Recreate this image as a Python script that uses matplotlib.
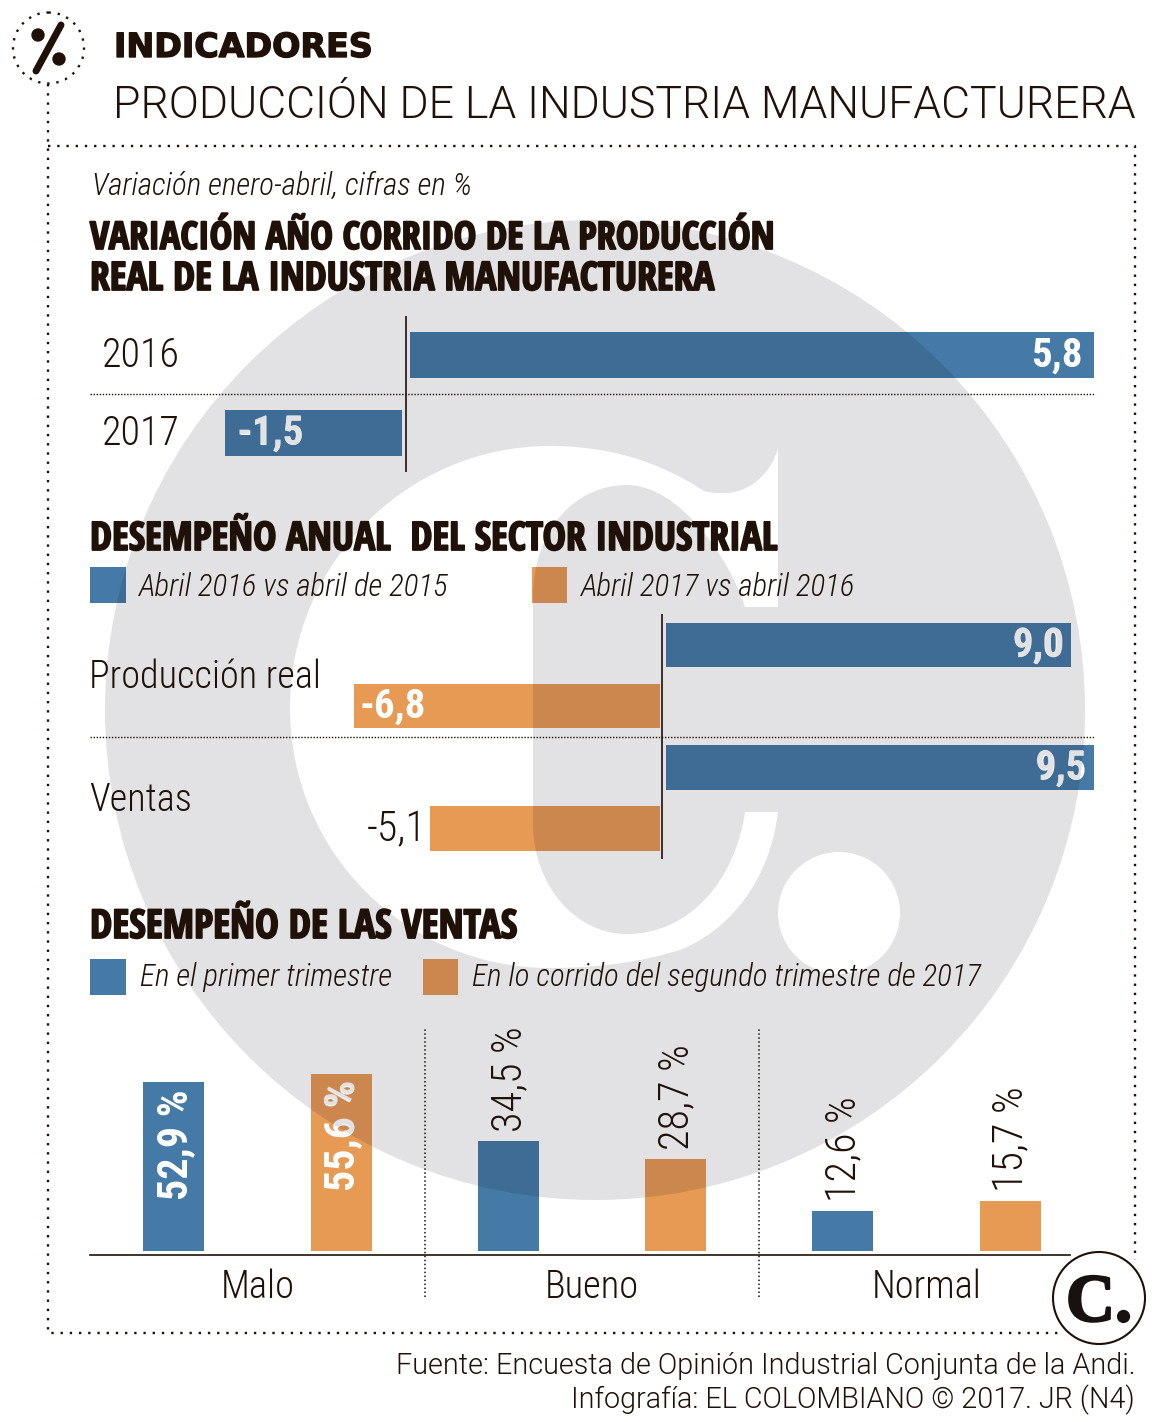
"""Indicadores: produccion de la industria manufacturera (infografia El Colombiano)."""

import matplotlib
matplotlib.use("Agg")
import matplotlib.patheffects as pe
import matplotlib.pyplot as plt
import numpy as np
from matplotlib.patches import Circle, Rectangle, PathPatch
from matplotlib.path import Path

WIDTH, HEIGHT = 1174, 1422

# Data.
YEARS = ["2016", "2017"]
YEAR_VARIATION = [5.8, -1.5]

ROWS = ["Producción real", "Ventas"]
APRIL_2016 = [9.0, 9.5]
APRIL_2017 = [-6.8, -5.1]

SALES_GROUPS = ["Malo", "Bueno", "Normal"]
SALES_Q1 = [52.9, 34.5, 12.6]
SALES_Q2 = [55.6, 28.7, 15.7]

INK = "#1f1108"
BLUE, BLUE_DARK = "#457aa7", "#3e6c95"
ORANGE, ORANGE_DARK = "#e79a54", "#cc874f"
WATERMARK = "#e2e2e4"

HEAD = dict(family="Open Sans Condensed", weight=700)
COND_LIGHT = dict(family="Roboto Condensed", weight=300)
COND_BOLD = dict(family="Roboto Condensed", weight=700)


def px(size):
    """Font size in points for a size in pixels (dpi 100)."""
    return size * 0.72


def axes_px(fig, x0, y0, x1, y1):
    """Axes covering a box given in picture pixels (y going down)."""
    ax = fig.add_axes([x0 / WIDTH, 1 - y1 / HEIGHT, (x1 - x0) / WIDTH, (y1 - y0) / HEIGHT])
    ax.patch.set_visible(False)
    for spine in ax.spines.values():
        spine.set_visible(False)
    ax.set_xticks([])
    ax.set_yticks([])
    return ax


def oriented(poly, ccw=True):
    """Closed polygon with the wanted winding, so holes stay holes."""
    x, y = poly[:, 0], poly[:, 1]
    area = np.sum(x[:-1] * y[1:] - x[1:] * y[:-1])
    return poly if (area > 0) == ccw else poly[::-1]


def watermark_path():
    """Big grey disc with the newspaper's C and dot cut out of it."""
    disc = Path.circle((595, 710), 490)
    dot = Path.circle((839, 913), 61)
    M, L, C = Path.MOVETO, Path.LINETO, Path.CURVE4
    c_shape = [
        (M, (778, 448)), (L, (778, 607)), (L, (745, 607)),
        (C, (730, 560)), (C, (680, 485)), (C, (627, 485)),
        (C, (575, 485)), (C, (533, 530)), (C, (533, 598)),
        (L, (533, 823)),
        (C, (533, 885)), (C, (575, 934)), (C, (627, 934)),
        (C, (690, 934)), (C, (735, 880)), (C, (745, 812)),
        (L, (778, 812)),
        (C, (770, 880)), (C, (730, 930)), (C, (680, 950)),
        (C, (640, 962)), (C, (600, 968)), (C, (550, 968)),
        (C, (406, 968)), (C, (290, 852)), (C, (290, 708)),
        (C, (290, 564)), (C, (406, 446)), (C, (550, 446)),
        (C, (610, 446)), (C, (660, 462)), (C, (704, 491)),
        (C, (712, 493)), (C, (718, 493)), (C, (725, 493)),
        (C, (750, 493)), (C, (772, 472)), (C, (778, 448)),
        (L, (778, 448)),
    ]
    hole = Path([p for _, p in c_shape], [c for c, _ in c_shape])
    polys = [oriented(disc.to_polygons(closed_only=True)[0], True)]
    for shape in (dot, hole):
        polys.append(oriented(shape.to_polygons(closed_only=True)[0], False))
    verts = np.concatenate(polys)
    codes = np.concatenate(
        [[Path.MOVETO] + [Path.LINETO] * (len(p) - 1) for p in polys]
    )
    return Path(verts, codes)


fig = plt.figure(figsize=(WIDTH / 100, HEIGHT / 100), dpi=100, facecolor="white")

# Background layer in picture pixels: watermark, frame, titles, legends.
bg = fig.add_axes([0, 0, 1, 1], zorder=0)
bg.set_xlim(0, WIDTH)
bg.set_ylim(HEIGHT, 0)
bg.axis("off")

mark = watermark_path()
bg.add_patch(PathPatch(mark, facecolor=WATERMARK, edgecolor="none", zorder=1))


def multiply(artist):
    """Clip a darker copy to the watermark, as if it was printed over it."""
    artist.set_clip_on(True)
    artist.set_clip_path(mark, bg.transData)
    return artist


def swatch(x0, x1, y0, y1, light, dark):
    bg.add_patch(Rectangle((x0, y0), x1 - x0, y1 - y0, facecolor=light, edgecolor="none", zorder=2))
    multiply(bg.add_patch(Rectangle((x0, y0), x1 - x0, y1 - y0, facecolor=dark, edgecolor="none", zorder=3)))


def heading(x, y, text, size):
    bg.text(x, y, text, color=INK, fontsize=px(size), va="baseline", zorder=5,
            path_effects=[pe.withStroke(linewidth=1.3, foreground=INK)], **HEAD)


def bar_label(ax, x, y, text, size=41, **kw):
    """White label inside a bar, turning grey where the watermark runs below."""
    style = dict(fontsize=px(size), zorder=6, **COND_BOLD, **kw)
    ax.text(x, y, text, color="white", **style)
    # agg only clips text to a path when it is drawn as a path, hence the effect
    grey = ax.text(x, y, text, color=WATERMARK, path_effects=[pe.Normal()], **style)
    multiply(grey).set_zorder(7)


def fmt(value, suffix=""):
    return f"{value:.1f}".replace(".", ",") + suffix


# Frame and header.
dotted = dict(color=INK, lw=1.7, linestyle=(0, (1, 2.9)), zorder=4)
bg.plot([48, 48, 1058], [84, 1333, 1333], **dotted)
bg.plot([48, 1135, 1135], [146, 146, 1260], **dotted)
bg.add_patch(Circle((48.5, 48), 35.5, fill=False, edgecolor=INK, lw=1.7,
                    linestyle=(0, (1, 2.9)), zorder=4))
bg.plot([61, 36], [25, 71], color=INK, lw=5, solid_capstyle="round", zorder=4)
bg.add_patch(Circle((38, 35), 6, color=INK, zorder=4))
bg.add_patch(Circle((59, 59), 6, color=INK, zorder=4))

bg.text(114, 57, "INDICADORES", color=INK, fontsize=px(33.3), family="DejaVu Sans", weight=700, zorder=5,
        path_effects=[pe.withStroke(linewidth=1.0, foreground=INK)])
bg.text(113, 118, "PRODUCCIÓN DE LA INDUSTRIA MANUFACTURERA", color=INK,
        fontsize=px(44.6), family="Roboto", weight=300, zorder=5)
bg.text(92, 195, "Variación enero-abril, cifras en %", color=INK, fontsize=px(31),
        style="italic", zorder=5, **COND_LIGHT)

heading(90, 249, "VARIACIÓN AÑO CORRIDO DE LA PRODUCCIÓN", 38.3)
heading(90, 290, "REAL DE LA INDUSTRIA MANUFACTURERA", 39.4)
heading(90, 550, "DESEMPEÑO ANUAL  DEL SECTOR INDUSTRIAL", 39.4)
heading(90, 938, "DESEMPEÑO DE LAS VENTAS", 39.9)

# Legends.
legend_style = dict(color=INK, fontsize=px(31), style="italic", zorder=5, **COND_LIGHT)
swatch(90, 126, 567, 603, BLUE, BLUE_DARK)
bg.text(139, 596, "Abril 2016 vs abril de 2015", **legend_style)
swatch(532, 567, 567, 603, ORANGE, ORANGE_DARK)
bg.text(581, 596, "Abril 2017 vs abril 2016", **legend_style)
swatch(90, 126, 959, 995, BLUE, BLUE_DARK)
bg.text(140, 986, "En el primer trimestre", **legend_style)
swatch(423, 458, 959, 995, ORANGE, ORANGE_DARK)
bg.text(472, 986, "En lo corrido del segundo trimestre de 2017", **legend_style)

# Footer and logo.
foot = dict(color=INK, fontsize=px(28.8), family="Roboto", weight=300, ha="right", zorder=5)
bg.text(1135, 1374, "Fuente: Encuesta de Opinión Industrial Conjunta de la Andi.", **foot)
bg.text(1135, 1408, "Infografía: EL COLOMBIANO © 2017. JR (N4)", **foot)
bg.add_patch(Circle((1099, 1298), 46, facecolor="white", edgecolor=INK, lw=1.5, zorder=8))
bg.text(1099, 1321, "C.", color="#17120f", fontsize=px(68), family="Liberation Serif", weight=700,
        ha="center", zorder=9, path_effects=[pe.withStroke(linewidth=1.6, foreground="#17120f")])

# Year-to-date variation: 118 px per point, zero at x = 406, bars 4 px off the axis.
ax1 = axes_px(fig, 90, 316, 1094, 472)
ax1.set_zorder(2)
scale1 = 118
ax1.set_xlim((90 - 406) / scale1, (1094 - 406) / scale1)
ax1.set_ylim((472 - 354.5) / 78, (316 - 354.5) / 78)
pos = np.arange(len(YEARS))
values = np.array(YEAR_VARIATION)
starts = np.where(values > 0, 4, -4) / scale1
ax1.barh(pos, values, left=starts, height=46 / 78, color=BLUE)
for patch in ax1.barh(pos, values, left=starts, height=46 / 78, color=BLUE_DARK):
    multiply(patch)
ax1.axvline(0, color=INK, lw=1.2)
ax1.axhline(0.5, color=INK, lw=1.0, linestyle=(0, (1, 1.2)))
year_tf = ax1.get_yaxis_transform()
for i, year in enumerate(YEARS):
    ax1.text(12 / 1004, i + 1 / 78, year, transform=year_tf, color=INK, fontsize=px(40), va="center", **COND_LIGHT)
bar_label(ax1, values[0] - 8 / scale1, 1 / 78, fmt(values[0]), ha="right", va="center")
bar_label(ax1, values[1] + 8 / scale1, 1 + 1 / 78, fmt(values[1]), ha="left", va="center")

# April comparison: 45 px per point, zero at x = 662.
ax2 = axes_px(fig, 90, 614, 1094, 859)
ax2.set_zorder(2)
scale2 = 45
ax2.set_xlim((90 - 662) / scale2, (1094 - 662) / scale2)
ax2.set_ylim((859 - 675.5) / 122.5, (614 - 675.5) / 122.5)
pos = np.arange(len(ROWS))
offset, bar_h = 0.25, 44.5 / 122.5
high = np.array(APRIL_2016)
low = np.array(APRIL_2017)
ax2.barh(pos - offset, high, left=4 / scale2, height=bar_h, color=BLUE)
ax2.barh(pos + offset, low, left=-2 / scale2, height=bar_h, color=ORANGE)
for patch in ax2.barh(pos - offset, high, left=4 / scale2, height=bar_h, color=BLUE_DARK):
    multiply(patch)
for patch in ax2.barh(pos + offset, low, left=-2 / scale2, height=bar_h, color=ORANGE_DARK):
    multiply(patch)
ax2.axvline(0, color=INK, lw=1.2)
ax2.axhline(0.5, color=INK, lw=1.0, linestyle=(0, (1, 1.2)))
row_tf = ax2.get_yaxis_transform()
for i, row in enumerate(ROWS):
    ax2.text(-1 / 1004, i + 2 / 122.5, row, transform=row_tf, color=INK, fontsize=px(38.3), va="center", **COND_LIGHT)
for i in pos:
    bar_label(ax2, high[i] - 3 / scale2, i - offset + 1 / 122.5, fmt(high[i]), ha="right", va="center")
bar_label(ax2, low[0] + 4 / scale2, 0 + offset + 1 / 122.5, fmt(low[0]), ha="left", va="center")
ax2.text(low[1] - 6 / scale2, 1 + offset + 1 / 122.5, fmt(low[1]), color=INK, fontsize=px(42),
         ha="right", va="center", **COND_LIGHT)

# Sales performance: 3.19 px per point, bars end 4 px above the axis line.
ax3 = axes_px(fig, 90, 1020, 1070, 1255)
ax3.set_zorder(2)
scale3 = 3.19
ax3.set_xlim((90 - 257.5) / 334.5, (1070 - 257.5) / 334.5)
ax3.set_ylim(-4 / scale3, 231 / scale3)
pos = np.arange(len(SALES_GROUPS))
offset, bar_w = 0.25, 61 / 334.5
for values, shift, light, dark in [(SALES_Q1, -offset, BLUE, BLUE_DARK), (SALES_Q2, offset, ORANGE, ORANGE_DARK)]:
    ax3.bar(pos + shift, values, width=bar_w, color=light)
    for patch in ax3.bar(pos + shift, values, width=bar_w, color=dark):
        multiply(patch)
    for x, val in zip(pos + shift, values):
        if val > 50:
            bar_label(ax3, x + 1.5 / 334.5, val - 7 / scale3, fmt(val, " %"), size=42, rotation=90, ha="center", va="top")
        else:
            ax3.text(x + 1.5 / 334.5, val + 9 / scale3, fmt(val, " %"), color=INK, fontsize=px(42), rotation=90,
                     ha="center", va="bottom", **COND_LIGHT)
ax3.spines["bottom"].set_visible(True)
ax3.spines["bottom"].set_color(INK)
ax3.spines["bottom"].set_linewidth(1.2)
ax3.set_xticks(pos, SALES_GROUPS, fontsize=px(38.5), color=INK, **COND_LIGHT)
ax3.tick_params(axis="x", length=0, pad=10)
ax3.vlines([0.5, 1.5], -46 / scale3, 224 / scale3, color=INK, lw=1.1,
           linestyle=(0, (1, 1.6)), clip_on=False)

fig.savefig("out.png", dpi=100)
